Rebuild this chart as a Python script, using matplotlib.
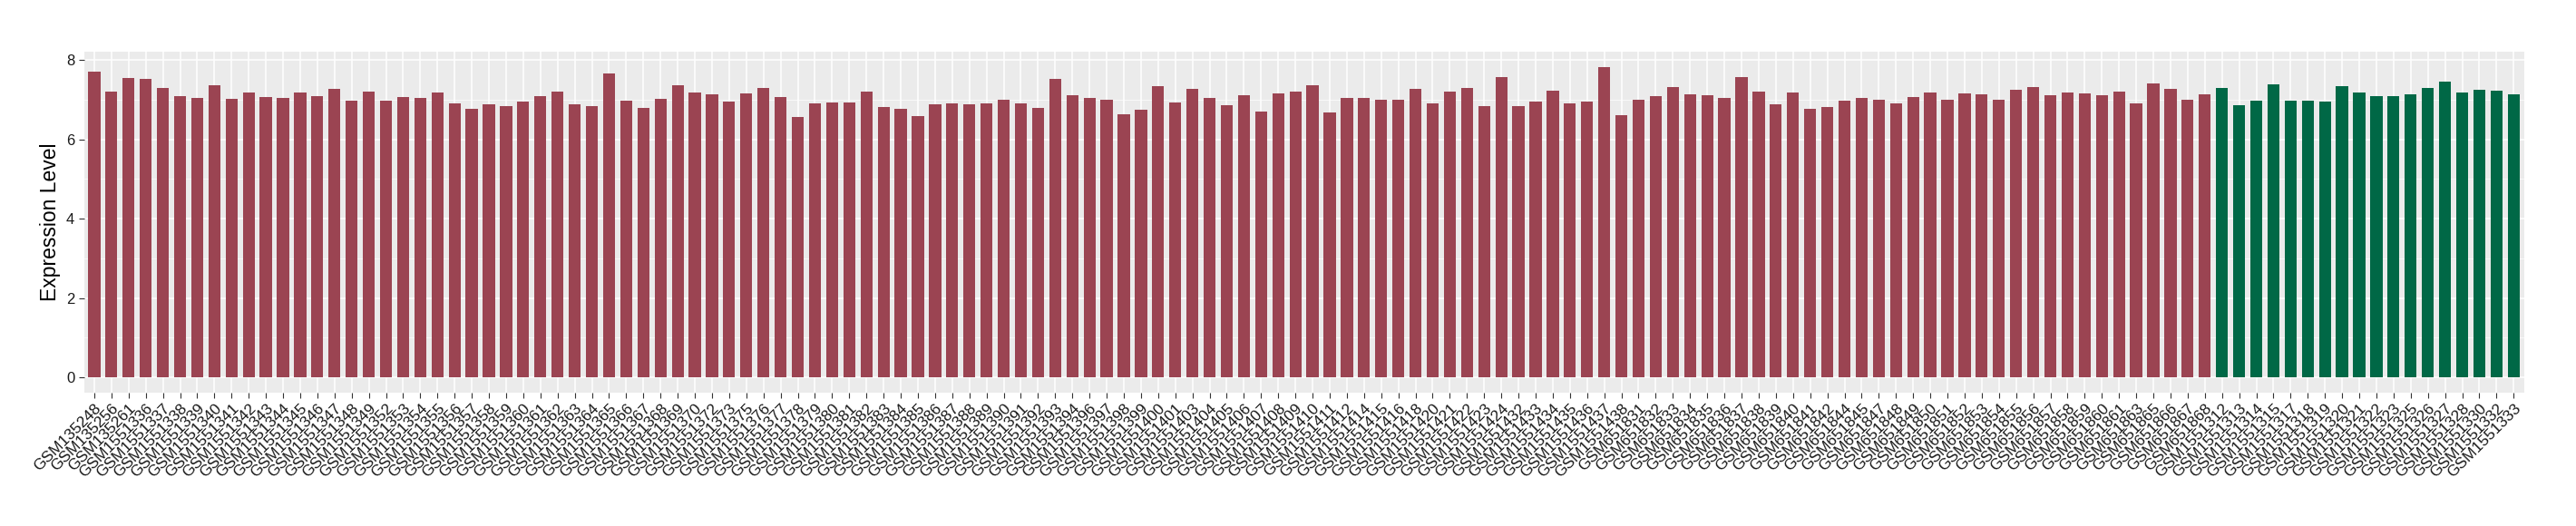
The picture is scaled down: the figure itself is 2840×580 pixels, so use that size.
import matplotlib.pyplot as plt
import numpy as np

plt.rcParams['font.family'] = ['Liberation Sans', 'DejaVu Sans']

# sample ids, in plot order
group1_samples = (["GSM135248", "GSM135256", "GSM135261"]
                  + ["GSM15513%d" % n for n in [36, 37, 38, 39, 40, 41, 42, 43, 44, 45, 46, 47, 48, 49,
                                                52, 53, 54, 55, 56, 57, 58, 59, 60, 61, 62, 63, 64, 65,
                                                66, 67, 68, 69, 70, 72, 73, 75, 76, 77, 78, 79, 80, 81,
                                                82, 83, 84, 85, 86, 87, 88, 89, 90, 91, 92, 93, 94, 96,
                                                97, 98, 99]]
                  + ["GSM15514%02d" % n for n in [0, 1, 3, 4, 5, 6, 7, 8, 9, 10, 11, 12, 14, 15, 16,
                                                  18, 20, 21, 22, 23, 24, 32, 33, 34, 35, 36, 37, 38]]
                  + ["GSM6518%d" % n for n in [31, 32, 33, 34, 35, 36, 37, 38, 39, 40, 41, 42, 44, 45,
                                               47, 48, 49, 50, 51, 52, 53, 54, 55, 56, 57, 58, 59, 60,
                                               61, 63, 65, 66, 67, 68]])
group2_samples = ["GSM15513%d" % n for n in [12, 13, 14, 15, 17, 18, 19, 20, 21, 22, 23, 25, 26,
                                             27, 28, 30, 32, 33]]

group1_values = [7.72, 7.21, 7.56, 7.53, 7.31, 7.10, 7.05, 7.37, 7.03, 7.19,
                 7.08, 7.05, 7.19, 7.10, 7.28, 6.98, 7.21, 6.98, 7.08, 7.05,
                 7.19, 6.92, 6.78, 6.89, 6.85, 6.96, 7.10, 7.21, 6.89, 6.85,
                 7.67, 6.98, 6.80, 7.03, 7.37, 7.19, 7.15, 6.96, 7.17, 7.31,
                 7.08, 6.57, 6.92, 6.94, 6.94, 7.21, 6.82, 6.78, 6.60, 6.89,
                 6.92, 6.89, 6.92, 7.01, 6.92, 6.80, 7.53, 7.12, 7.05, 7.01,
                 6.64, 6.76, 7.35, 6.94, 7.28, 7.05, 6.87, 7.12, 6.71, 7.17,
                 7.21, 7.37, 6.69, 7.05, 7.05, 7.01, 7.01, 7.28, 6.92, 7.21,
                 7.31, 6.85, 7.58, 6.85, 6.96, 7.24, 6.92, 6.96, 7.83, 6.62,
                 7.01, 7.10, 7.33, 7.15, 7.12, 7.05, 7.58, 7.21, 6.89, 7.19,
                 6.78, 6.82, 6.98, 7.05, 7.01, 6.92, 7.08, 7.19, 7.01, 7.17,
                 7.15, 7.01, 7.26, 7.33, 7.12, 7.19, 7.17, 7.12, 7.21, 6.92,
                 7.42, 7.28, 7.01, 7.15]
group2_values = [7.31, 6.87, 6.98, 7.40, 6.98, 6.98, 6.96, 7.35, 7.19, 7.10,
                 7.10, 7.15, 7.31, 7.46, 7.19, 7.26, 7.24, 7.15]

color1 = "#9B4452"
color2 = "#006846"

samples = group1_samples + group2_samples
values = group1_values + group2_values
colors = [color1] * len(group1_values) + [color2] * len(group2_values)
x = np.arange(len(samples))

fig = plt.figure(figsize=(28.4, 5.8), dpi=100)
ax = fig.add_axes([0.0326, 0.2534, 0.9472, 0.6488])
ax.set_facecolor("#EBEBEB")
ax.bar(x, values, width=0.7, color=colors, zorder=3)

ax.set_xlim(-0.6, len(samples) - 0.4)
ax.set_ylim(-max(values) * 0.05, max(values) * 1.05)
ax.set_yticks([0, 2, 4, 6, 8])
ax.set_yticks([1, 3, 5, 7], minor=True)
ax.set_xticks(x)
ax.set_xticklabels(samples, rotation=45, ha="right", va="top", rotation_mode="anchor",
                   fontsize=12.5, color="#1A1A1A")
ax.tick_params(axis="y", labelsize=12, labelcolor="#1A1A1A", color="#333333", length=4)
ax.tick_params(axis="y", which="minor", length=0)
ax.tick_params(axis="x", color="#333333", length=4, pad=3)
ax.grid(True, which="major", color="white", linewidth=1.1, zorder=0)
ax.grid(True, which="minor", axis="y", color="white", linewidth=0.5, zorder=0)
for s in ax.spines.values():
    s.set_visible(False)
ax.set_ylabel("Expression Level", fontsize=16.5, labelpad=4)

fig.savefig("out.png", dpi=100)
